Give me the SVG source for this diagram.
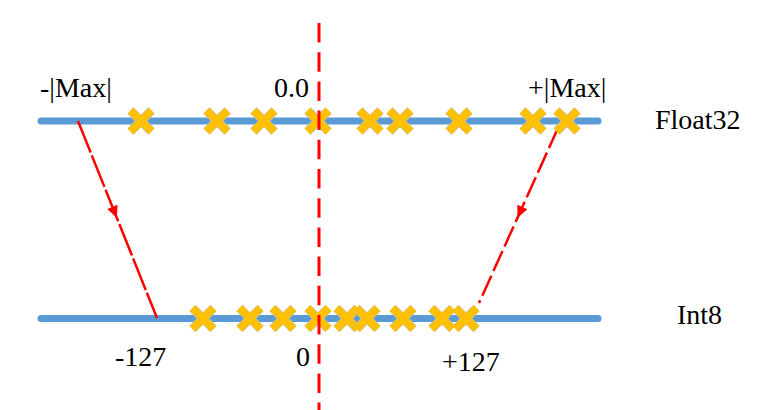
<svg xmlns="http://www.w3.org/2000/svg" xmlns:xlink="http://www.w3.org/1999/xlink" width="768" height="410" viewBox="0 0 768 410">
<style>
.axis{stroke:#5B9BD5;stroke-width:7;stroke-linecap:round;fill:none}
.xo{stroke:#C8C0A8;stroke-width:9;fill:none}
.xi{stroke:#FFC000;stroke-width:7.5;fill:none}
.lbl{font-family:"Liberation Serif","Times New Roman",serif;font-size:28px;fill:#000}
.zero{stroke:#FF0000;stroke-width:3;stroke-dasharray:19.5 9.7;fill:none}
.map{stroke:#FF0000;stroke-width:2.5;fill:none;marker-mid:url(#ah)}
</style>
<defs>
<marker id="ah" markerUnits="userSpaceOnUse" markerWidth="14" markerHeight="14" viewBox="-13 -7 14 14" refX="0" refY="0" orient="auto">
<path d="M0,0 L-12,-5.5 L-12,5.5 Z" fill="#FF0000"/>
</marker>
<g id="cross">
<path class="xo" d="M-10.5,-10.5 L10.5,10.5 M-10.5,10.5 L10.5,-10.5"/>
<path class="xi" d="M-10.5,-10.5 L10.5,10.5 M-10.5,10.5 L10.5,-10.5"/>
</g>
</defs>

<g id="float32-axis">
<line class="axis" x1="41" y1="121" x2="598" y2="121"/>
<text class="lbl" x="655" y="129">Float32</text>
</g>
<g id="int8-axis">
<line class="axis" x1="41" y1="318.5" x2="598" y2="318.5"/>
<text class="lbl" x="677" y="324">Int8</text>
</g>

<g id="labels">
<text class="lbl" x="40" y="97">-|Max|</text>
<text class="lbl" x="274" y="97">0.0</text>
<text class="lbl" x="528" y="97">+|Max|</text>
<text class="lbl" x="115" y="366">-127</text>
<text class="lbl" x="296" y="366">0</text>
<text class="lbl" x="442" y="371">+127</text>
</g>

<g id="connectors">
<path class="map" d="M78,121 L116.9,218 L157,318" style="stroke-dasharray:34 3"/>
<path class="map" d="M558,128 L517.4,218 L479,303" style="stroke-dasharray:22 5"/>
</g>

<g id="float32-values">
<use xlink:href="#cross" href="#cross" x="141" y="121"/>
<use xlink:href="#cross" href="#cross" x="217" y="121"/>
<use xlink:href="#cross" href="#cross" x="264" y="121"/>
<use xlink:href="#cross" href="#cross" x="318" y="121"/>
<use xlink:href="#cross" href="#cross" x="370" y="121"/>
<use xlink:href="#cross" href="#cross" x="400" y="121"/>
<use xlink:href="#cross" href="#cross" x="459" y="121"/>
<use xlink:href="#cross" href="#cross" x="533" y="121"/>
<use xlink:href="#cross" href="#cross" x="567" y="121"/>
</g>
<g id="int8-values">
<use xlink:href="#cross" href="#cross" x="203" y="318.5"/>
<use xlink:href="#cross" href="#cross" x="250" y="318.5"/>
<use xlink:href="#cross" href="#cross" x="283" y="318.5"/>
<use xlink:href="#cross" href="#cross" x="318" y="318.5"/>
<use xlink:href="#cross" href="#cross" x="347" y="318.5"/>
<use xlink:href="#cross" href="#cross" x="367" y="318.5"/>
<use xlink:href="#cross" href="#cross" x="403" y="318.5"/>
<use xlink:href="#cross" href="#cross" x="442" y="318.5"/>
<use xlink:href="#cross" href="#cross" x="466" y="318.5"/>
</g>

<g id="zero-line">
<line class="zero" x1="319" y1="23" x2="319" y2="410"/>
</g>
</svg>
